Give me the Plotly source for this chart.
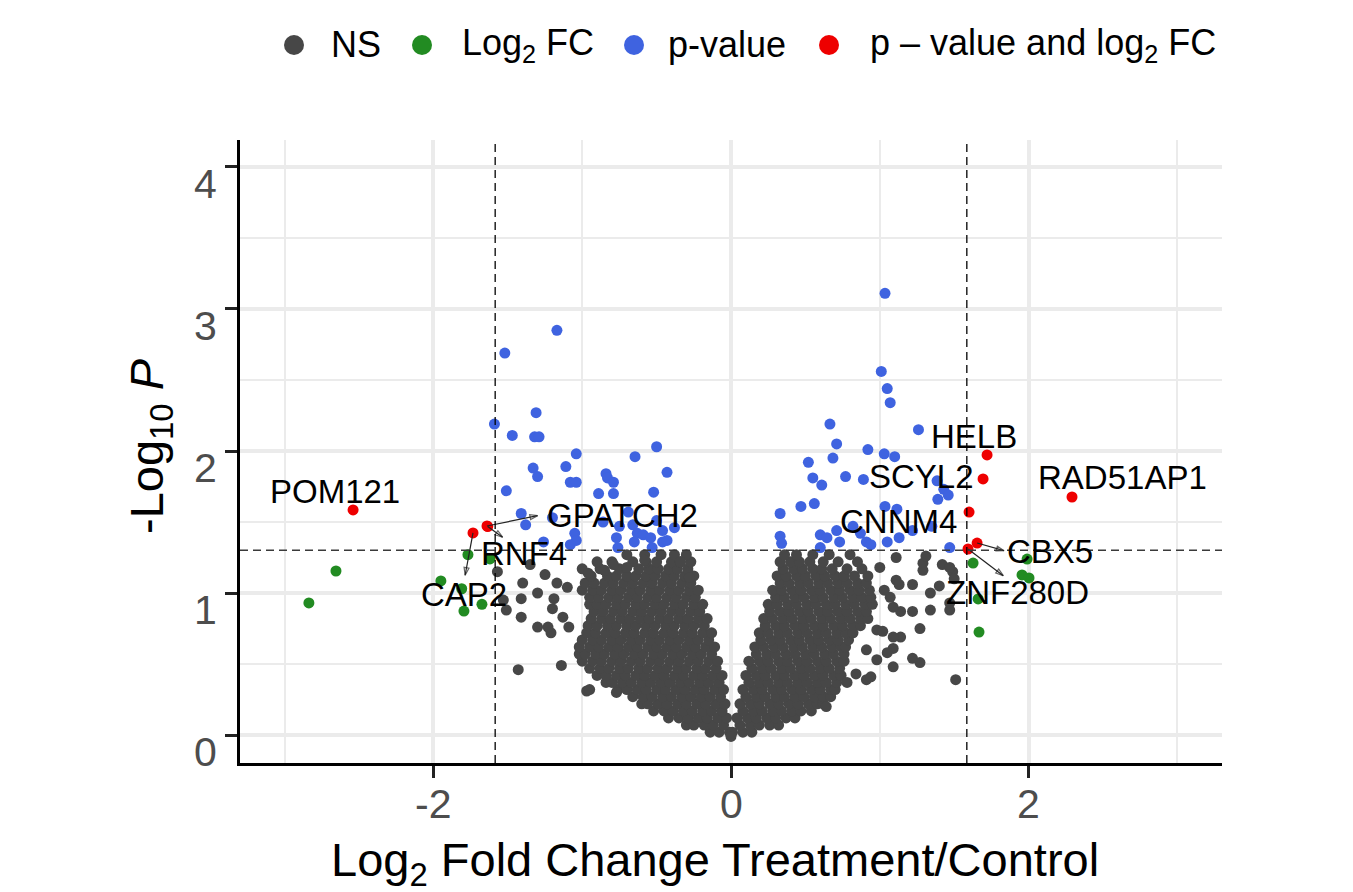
import plotly.graph_objects as go

# ---------------- data ----------------
FC_CUTOFF = 1.585      # log2 fold-change cutoff
P_CUTOFF_LOG = 1.301   # -log10(0.05)

# non-significant points, stored row by row: (-log10 P, [log2 FC ...])
NS_ROWS = [
    (0.02, [-0.14, -0.08, -0.01, 0.01, 0.08, 0.14]),
    (0.07, [-0.30, -0.25, -0.18, -0.12, -0.05, 0.06, 0.13, 0.19, 0.26, 0.32]),
    (0.12, [-0.42, -0.35, -0.29, -0.22, -0.16, -0.09, -0.03, 0.04, 0.11, 0.17, 0.24, 0.30, 0.37, 0.43]),
    (0.17, [-0.52, -0.45, -0.39, -0.32, -0.26, -0.19, -0.13, -0.06, 0.08, 0.15, 0.21, 0.28, 0.34, 0.41, 0.47, 0.54]),
    (0.22, [-0.60, -0.56, -0.49, -0.43, -0.36, -0.30, -0.23, -0.17, -0.10, -0.04,
            0.06, 0.13, 0.19, 0.26, 0.32, 0.39, 0.45, 0.52, 0.58, 0.62]),
    (0.27, [-0.66, -0.59, -0.53, -0.46, -0.40, -0.33, -0.27, -0.20, -0.14, -0.07,
            0.10, 0.17, 0.23, 0.30, 0.36, 0.43, 0.49, 0.56, 0.62, 0.67]),
    (0.32, [-0.76, -0.70, -0.63, -0.57, -0.50, -0.44, -0.37, -0.31, -0.24, -0.18, -0.11, -0.05,
            0.08, 0.15, 0.21, 0.28, 0.34, 0.41, 0.47, 0.54, 0.60, 0.67, 0.70]),
    (0.37, [-0.84, -0.80, -0.73, -0.67, -0.60, -0.54, -0.47, -0.41, -0.34, -0.28, -0.21, -0.15, -0.08,
            0.12, 0.19, 0.25, 0.32, 0.38, 0.45, 0.51, 0.58, 0.64, 0.71]),
    (0.42, [-0.90, -0.84, -0.77, -0.71, -0.64, -0.58, -0.51, -0.45, -0.38, -0.32, -0.25, -0.19, -0.12, -0.06,
            0.10, 0.17, 0.23, 0.30, 0.36, 0.43, 0.49, 0.56, 0.62, 0.69, 0.74]),
    (0.47, [-0.95, -0.88, -0.82, -0.75, -0.69, -0.62, -0.56, -0.49, -0.43, -0.36, -0.30, -0.23, -0.17, -0.10,
            0.14, 0.21, 0.27, 0.34, 0.40, 0.47, 0.53, 0.60, 0.66, 0.73]),
    (0.52, [-1.00, -0.93, -0.87, -0.80, -0.74, -0.67, -0.61, -0.54, -0.48, -0.41, -0.35, -0.28, -0.22, -0.15, -0.09,
            0.12, 0.19, 0.25, 0.32, 0.38, 0.45, 0.51, 0.58, 0.64, 0.71, 0.76]),
    (0.57, [-1.02, -0.98, -0.91, -0.85, -0.78, -0.72, -0.65, -0.59, -0.52, -0.46, -0.39, -0.33, -0.26, -0.20, -0.13,
            0.17, 0.24, 0.30, 0.37, 0.43, 0.50, 0.56, 0.63, 0.69, 0.76]),
    (0.62, [-1.02, -0.95, -0.89, -0.82, -0.76, -0.69, -0.63, -0.56, -0.50, -0.43, -0.37, -0.30, -0.24, -0.17, -0.11,
            0.16, 0.22, 0.29, 0.35, 0.42, 0.48, 0.55, 0.61, 0.68, 0.74, 0.77]),
    (0.67, [-1.00, -0.93, -0.87, -0.80, -0.74, -0.67, -0.61, -0.54, -0.48, -0.41, -0.35, -0.28, -0.22, -0.15,
            0.20, 0.27, 0.33, 0.40, 0.46, 0.53, 0.59, 0.66, 0.72, 0.79]),
    (0.72, [-0.97, -0.91, -0.84, -0.78, -0.71, -0.65, -0.58, -0.52, -0.45, -0.39, -0.32, -0.26, -0.19, -0.13,
            0.19, 0.25, 0.32, 0.38, 0.45, 0.51, 0.58, 0.64, 0.71, 0.77, 0.82]),
    (0.77, [-0.96, -0.90, -0.83, -0.77, -0.70, -0.64, -0.57, -0.51, -0.44, -0.38, -0.31, -0.25, -0.18,
            0.23, 0.30, 0.36, 0.43, 0.49, 0.56, 0.62, 0.69, 0.75, 0.82, 0.87]),
    (0.82, [-0.94, -0.87, -0.81, -0.74, -0.68, -0.61, -0.55, -0.48, -0.42, -0.35, -0.29, -0.22, -0.16,
            0.22, 0.28, 0.35, 0.41, 0.48, 0.54, 0.61, 0.67, 0.74, 0.80, 0.87, 0.92]),
    (0.87, [-0.92, -0.86, -0.79, -0.73, -0.66, -0.60, -0.53, -0.47, -0.40, -0.34, -0.27, -0.21,
            0.26, 0.33, 0.39, 0.46, 0.52, 0.59, 0.65, 0.72, 0.78, 0.85, 0.91]),
    (0.92, [-0.95, -0.90, -0.84, -0.77, -0.71, -0.64, -0.58, -0.51, -0.45, -0.38, -0.32, -0.25, -0.19,
            0.25, 0.31, 0.38, 0.44, 0.51, 0.57, 0.64, 0.70, 0.77, 0.83, 0.90, 0.95]),
    (0.97, [-0.95, -0.89, -0.82, -0.76, -0.69, -0.63, -0.56, -0.50, -0.43, -0.37, -0.30, -0.24,
            0.30, 0.36, 0.43, 0.49, 0.56, 0.62, 0.69, 0.75, 0.82, 0.88, 0.94]),
    (1.02, [-1.00, -0.93, -0.87, -0.80, -0.74, -0.67, -0.61, -0.54, -0.48, -0.41, -0.35, -0.28, -0.22,
            0.28, 0.34, 0.41, 0.47, 0.54, 0.60, 0.67, 0.73, 0.80, 0.86, 0.93]),
    (1.07, [-0.98, -0.92, -0.85, -0.79, -0.72, -0.66, -0.59, -0.53, -0.46, -0.40, -0.33, -0.27,
            0.33, 0.39, 0.46, 0.52, 0.59, 0.65, 0.72, 0.78, 0.85, 0.91]),
    (1.12, [-0.94, -0.83, -0.77, -0.70, -0.64, -0.57, -0.51, -0.44, -0.38, -0.31, -0.25,
            0.31, 0.37, 0.44, 0.50, 0.57, 0.63, 0.70, 0.76, 0.83, 0.92]),
    (1.17, [-1.00, -0.88, -0.75, -0.62, -0.55, -0.49, -0.42, -0.36, -0.29,
            0.35, 0.42, 0.48, 0.55, 0.61, 0.68, 0.78, 0.88]),
    (1.22, [-0.90, -0.80, -0.66, -0.57, -0.50, -0.40, -0.34, -0.27,
            0.33, 0.40, 0.46, 0.53, 0.62, 0.72, 0.85]),
    (1.27, [-0.70, -0.58, -0.47, -0.38, -0.30, 0.36, 0.44, 0.55, 0.66, 0.80]),
]
# scattered non-significant points outside the dense core
NS_EXTRA_X = [0.00, -1.43, -1.14, -0.97, -0.77, -1.41, -1.41, -1.40, -1.57, -1.51, -1.30, -1.21, -1.23,
              -1.09, -1.13, -1.20, -1.19, -1.17, -1.10, -0.96, -0.85, -0.79, -0.70, -0.58, -0.34,
              -0.28, -1.53, -1.35, -1.30, -1.25, -0.95,
              1.51, 1.27, 1.22, 1.09, 1.14, 1.27, 1.22, 1.14, 1.34, 1.34, 1.47, 1.47, 1.49, 1.42,
              1.29, 1.29, 1.11, 1.13, 1.22, 1.07, 1.03, 1.09, 0.98, 1.02, 1.09, 0.91, 1.09, 1.05,
              0.98, 0.78, 0.91, 0.84, 1.11, 1.00, 1.31, 1.47, 1.50, 1.40, 0.64, 0.94]
NS_EXTRA_Y = [-0.01, 0.46, 0.49, 0.31, 0.30, 0.83, 0.96, 1.07, 1.15, 0.88, 0.76, 0.72, 0.76,
              0.76, 0.83, 0.89, 0.96, 1.07, 1.04, 1.14, 1.16, 1.20, 1.18, 1.23, 1.22,
              1.11, 0.95, 1.20, 1.00, 1.13, 0.32,
              0.39, 0.51, 0.54, 0.48, 0.69, 0.75, 0.87, 0.87, 0.88, 1.00, 0.88, 0.93, 1.15, 1.20,
              1.21, 1.16, 1.09, 1.06, 1.06, 0.97, 1.02, 0.90, 0.74, 0.73, 0.69, 0.60, 0.61, 0.58,
              0.53, 0.37, 0.39, 0.43, 1.25, 1.18, 1.26, 1.18, 1.10, 1.05, 0.20, 0.41]

# |log2 FC| above cutoff only (green)
FC_X = [-2.837, -2.655, -1.950, -1.768, -1.620, -1.810, -1.795, -1.674,
        1.627, 1.990, 1.956, 2.003, 1.661, 1.667]
FC_Y = [0.930, 1.155, 1.085, 1.270, 1.240, 1.030, 0.873, 0.920,
        1.211, 1.239, 1.127, 1.106, 0.958, 0.725]

# p-value below cutoff only (blue)
P_X = [-1.17, -1.52, -1.59, -1.47, -1.31, -1.32, -1.29, -1.04, -0.50, -0.645, -1.33, -1.30,
       -1.11, -1.08, -1.04, -0.84, -0.83, -0.79, -0.43, -0.89, -0.79, -0.52, -1.51, -1.41,
       -1.38, -1.20, -0.69, -1.26, -1.05, -1.04, -0.86, -0.75, -0.77, -0.66, -0.63, -0.59,
       -0.54, -0.50, -0.46, -0.38, -0.65, -0.53, -0.46, -0.43, -0.76, -1.08,
       1.035, 1.01, 1.05, 1.07, 0.665, 1.26, 0.71, 0.685, 0.92, 1.03, 1.10, 0.52, 0.55,
       0.61, 0.77, 0.89, 1.385, 1.43, 1.46, 1.39, 0.47, 0.56, 0.33, 1.035, 1.115, 0.33,
       0.34, 0.60, 0.645, 0.71, 0.82, 0.87, 0.91, 0.94, 1.05, 1.13, 1.22, 0.73, 1.35,
       1.47, 0.60]
P_Y = [2.85, 2.69, 2.19, 2.11, 2.27, 2.10, 2.10, 1.98, 2.03, 1.96, 1.88, 1.82,
       1.89, 1.78, 1.78, 1.84, 1.81, 1.78, 1.85, 1.70, 1.70, 1.71, 1.72, 1.56,
       1.48, 1.53, 1.57, 1.36, 1.42, 1.37, 1.50, 1.47, 1.39, 1.48, 1.42, 1.41,
       1.39, 1.51, 1.44, 1.46, 1.36, 1.32, 1.36, 1.37, 1.32, 1.34,
       3.11, 2.56, 2.44, 2.34, 2.19, 2.15, 2.05, 1.95, 2.01, 1.98, 1.96, 1.92, 1.81,
       1.76, 1.82, 1.80, 1.79, 1.73, 1.69, 1.66, 1.61, 1.63, 1.56, 1.61, 1.59, 1.40,
       1.35, 1.41, 1.39, 1.44, 1.47, 1.42, 1.36, 1.34, 1.36, 1.39, 1.44, 1.36, 1.47,
       1.32, 1.32]

# both cutoffs passed (red), with gene names
SIG_GENES = ["POM121", "CAP2", "GPATCH2", "RNF4", "HELB", "SCYL2", "RAD51AP1", "CNNM4", "CBX5", "ZNF280D"]
SIG_X = [-2.540, -1.734, -1.640, -1.635, 1.721, 1.694, 2.292, 1.600, 1.654, 1.593]
SIG_Y = [1.585, 1.423, 1.472, 1.468, 1.972, 1.803, 1.676, 1.570, 1.352, 1.310]

LEGEND_LABELS = ["NS", "Log<sub>2</sub> FC", "p-value", "p \u2013 value and log<sub>2</sub> FC"]
X_TICKS = [-2, 0, 2]
X_TICK_TEXT = ["-2", "0", "2"]
Y_TICKS = [0, 1, 2, 3, 4]
Y_TICK_TEXT = ["0", "1", "2", "3", "4"]

# ---------------- styling / layout ----------------
COLORS = ["#474747", "#228B22", "#3F63E0", "#EE0000"]
FONT = "Liberation Sans, Arial, Helvetica, sans-serif"
MS = 11

ns_x, ns_y = [], []
for yv, xs in NS_ROWS:
    ns_x.extend(xs)
    ns_y.extend([yv] * len(xs))
ns_x += NS_EXTRA_X
ns_y += NS_EXTRA_Y

fig = go.Figure()
for xs, ys, col in [(ns_x, ns_y, COLORS[0]), (FC_X, FC_Y, COLORS[1]),
                    (P_X, P_Y, COLORS[2]), (SIG_X, SIG_Y, COLORS[3])]:
    fig.add_trace(go.Scatter(x=xs, y=ys, mode="markers",
                             marker=dict(color=col, size=MS, line=dict(width=0)),
                             showlegend=False, hoverinfo="skip"))

# gene labels (label centre, in data units) and connector arrow heads
LABEL_POS = {
    "POM121": (-2.662, 1.718), "GPATCH2": (-0.726, 1.549), "RNF4": (-1.392, 1.275),
    "CAP2": (-1.795, 0.993), "HELB": (1.634, 2.099), "SCYL2": (1.277, 1.817),
    "RAD51AP1": (2.629, 1.810), "CNNM4": (1.129, 1.507), "CBX5": (2.145, 1.289),
    "ZNF280D": (1.923, 1.007),
}
ARROW_HEAD = {
    "GPATCH2": (-1.300, 1.545), "RNF4": (-1.535, 1.393), "CAP2": (-1.787, 1.125),
    "CBX5": (1.835, 1.298), "ZNF280D": (1.830, 1.122),
}
# connectors from each point to its label, drawn as line traces with an open arrow head
for g, gx, gy in zip(SIG_GENES, SIG_X, SIG_Y):
    if g in ARROW_HEAD:
        hx, hy = ARROW_HEAD[g]
        fig.add_trace(go.Scatter(x=[gx, hx], y=[gy, hy], mode="lines+markers",
                                 line=dict(color="#222222", width=1.2),
                                 marker=dict(symbol=["circle", "arrow-open"], size=[0, 8],
                                             angleref="previous", color="#222222",
                                             line=dict(color="#222222", width=1.2)),
                                 showlegend=False, hoverinfo="skip"))

# plot area in pixels
L, R, T, B = 240, 1222, 140, 763
W, H = 1353, 892
def px_x(p):
    return (p - L) / (R - L)
def px_y(p):
    return (B - p) / (B - T)

shapes = []
# cutoff lines
for xv in (-FC_CUTOFF, FC_CUTOFF):
    shapes.append(dict(type="line", xref="x", yref="paper", x0=xv, x1=xv, y0=0, y1=1,
                       line=dict(color="#000000", width=1.3, dash="8px,5px"), layer="above"))
shapes.append(dict(type="line", xref="paper", yref="y", x0=0, x1=1, y0=P_CUTOFF_LOG, y1=P_CUTOFF_LOG,
                   line=dict(color="#3a3a3a", width=1.7, dash="8px,5px"), layer="above"))

# legend markers (custom)
leg_marker_px = [294, 422, 634, 829]
leg_text_px = [329, 460, 666, 868]
leg_y = px_y(45)
for mx, col in zip(leg_marker_px, COLORS):
    shapes.append(dict(type="circle", xref="paper", yref="paper", xsizemode="pixel", ysizemode="pixel",
                       xanchor=px_x(mx), yanchor=leg_y, x0=-10, x1=10, y0=-10, y1=10,
                       fillcolor=col, line=dict(width=0)))

annotations = []
for tx, lab in zip(leg_text_px, LEGEND_LABELS):
    annotations.append(dict(xref="paper", yref="paper", x=px_x(tx), y=leg_y, text=lab,
                            showarrow=False, xanchor="left", yanchor="middle",
                            font=dict(family=FONT, size=36, color="#000000")))

# y tick labels (sit slightly below their ticks, as in the source)
for v, t in zip(Y_TICKS, Y_TICK_TEXT):
    annotations.append(dict(xref="paper", yref="y", x=0, y=v, text=t, showarrow=False,
                            xanchor="right", yanchor="middle", xshift=-21, yshift=-17,
                            font=dict(family=FONT, size=41, color="#4D4D4D")))
# x tick labels
for v, t in zip(X_TICKS, X_TICK_TEXT):
    annotations.append(dict(xref="x", yref="paper", x=v, y=px_y(804), text=t, showarrow=False,
                            xanchor="center", yanchor="middle",
                            font=dict(family=FONT, size=41, color="#4D4D4D")))

# axis titles
annotations.append(dict(xref="paper", yref="paper", x=px_x(715), y=px_y(863),
                        text="Log<sub>2</sub> Fold Change Treatment/Control", showarrow=False,
                        xanchor="center", yanchor="middle",
                        font=dict(family=FONT, size=47, color="#000000")))
annotations.append(dict(xref="paper", yref="paper", x=px_x(150), y=px_y(446),
                        text="-Log<sub>10</sub> <i>P</i>", showarrow=False, textangle=-90,
                        xanchor="center", yanchor="middle",
                        font=dict(family=FONT, size=47, color="#000000")))

for g in SIG_GENES:
    lx, ly = LABEL_POS[g]
    annotations.append(dict(xref="x", yref="y", x=lx, y=ly, text=g, showarrow=False,
                            xanchor="center", yanchor="middle",
                            font=dict(family=FONT, size=33, color="#000000")))

GRID = "#EBEBEB"
fig.update_layout(
    width=W, height=H, autosize=False,
    margin=dict(l=L, r=W - R, t=T, b=H - B, pad=0),
    paper_bgcolor="white", plot_bgcolor="white",
    showlegend=False,
    shapes=shapes, annotations=annotations,
    font=dict(family=FONT),
    xaxis=dict(range=[-3.3, 3.3], tickmode="array", tickvals=X_TICKS, ticktext=X_TICK_TEXT,
               showticklabels=False,
               showgrid=True, gridcolor=GRID, gridwidth=4, zeroline=False,
               showline=True, linecolor="#000000", linewidth=2.5,
               ticks="outside", ticklen=12, tickwidth=3, tickcolor="#222222",
               minor=dict(tickvals=[-3, -1, 1, 3], showgrid=True, gridcolor=GRID, gridwidth=2, ticks=""),
               fixedrange=True),
    yaxis=dict(range=[-0.197, 4.19], tickmode="array", tickvals=Y_TICKS, ticktext=Y_TICK_TEXT,
               showticklabels=False,
               showgrid=True, gridcolor=GRID, gridwidth=4, zeroline=False,
               showline=True, linecolor="#000000", linewidth=2.5,
               ticks="outside", ticklen=12, tickwidth=3, tickcolor="#222222",
               minor=dict(tickvals=[0.5, 1.5, 2.5, 3.5], showgrid=True, gridcolor=GRID, gridwidth=2, ticks=""),
               fixedrange=True),
)

fig.write_html("out.html", config={"displayModeBar": False},
               post_script="document.body.style.margin='0';document.body.style.overflow='hidden';")
